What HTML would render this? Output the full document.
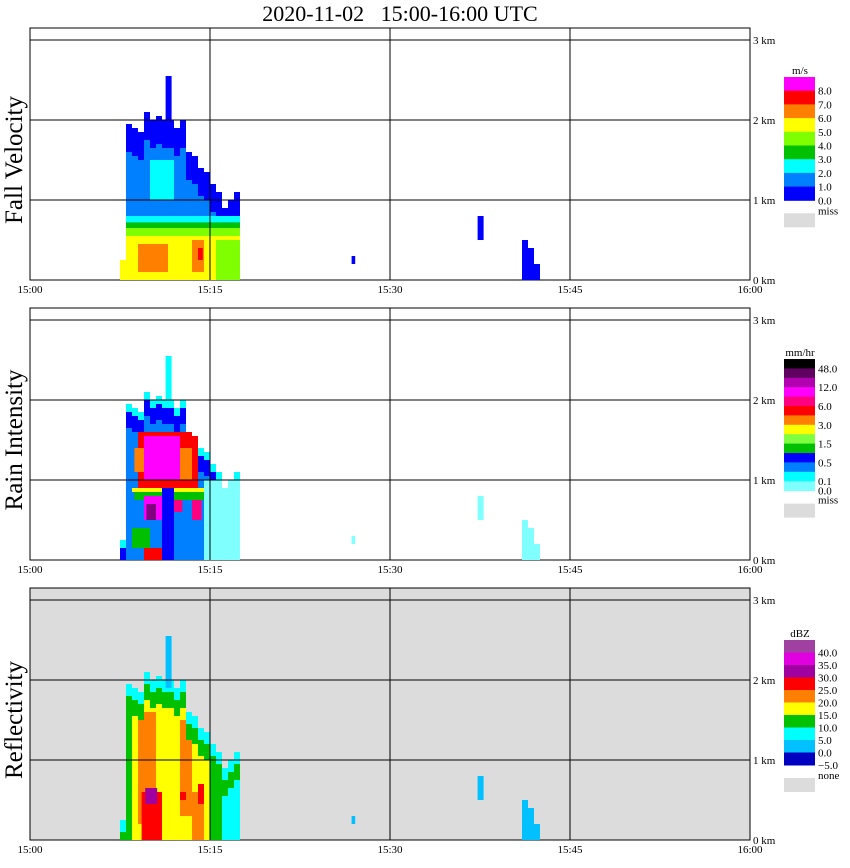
<!DOCTYPE html>
<html><head><meta charset="utf-8"><style>
body{margin:0;background:#fff;}
svg{display:block;font-family:"Liberation Serif",serif;}
</style></head><body>
<svg id="s" width="850" height="868" viewBox="0 0 850 868">
<text x="400" y="21" font-size="22" text-anchor="middle" xml:space="preserve" style="white-space:pre">2020-11-02   15:00-16:00 UTC</text>
</svg>
<script>
// ---- data ----
const colTimes = [7.5,8,8.5,9,9.5,10,10.5,11,11.5,12,12.5,13,13.5,14,14.5,15,15.5,16,16.5,17];
const colTops  = [0.25,1.95,1.9,1.85,2.1,2.0,2.05,2.0,2.0,1.9,2.0,1.6,1.55,1.4,1.35,1.2,1.1,0.9,1.0,1.1];
const towers = [[11.3,11.8,1.9,2.55]];
const smallEchoes = [[37.3,37.8,0.5,0.8],[41.0,41.5,0.0,0.5],[41.5,42.0,0.0,0.4],[42.0,42.5,0.0,0.2],[26.8,27.1,0.2,0.3]];
const fvCores = [[7.5,17.5,0,0.55,'#ffff00'],[8,17.5,0.55,0.65,'#80ff00'],[8,17.5,0.65,0.72,'#00c000'],[8,17.5,0.72,0.8,'#00ffff'],
 [9,11.5,0.1,0.45,'#ff8000'],[13.5,14.5,0.1,0.5,'#ff8000'],[14,14.4,0.25,0.4,'#ff0000'],[10,12,1.0,1.5,'#00ffff'],[15.5,17.5,0,0.5,'#80ff00']];
const riCores = [[9,14,0.9,1.6,'#ff0000'],[9.5,12.5,1.0,1.55,'#ff00ff'],[8.7,9.5,1.1,1.4,'#ff8000'],[12.5,13.5,1.0,1.4,'#ff8000'],
 [8.7,14.5,0.75,0.9,'#00c000'],[9.5,11,0.5,0.8,'#ff00ff'],[9.7,10.5,0.5,0.7,'#800080'],[11.7,12.7,0.6,0.75,'#ff0080'],[13.5,14.3,0.5,0.75,'#ff0080'],
 [8.5,14.5,0.85,0.9,'#ffff00'],[14.5,17.5,0,1.0,'#80ffff'],[11,12,0,0.9,'#0000ff'],[9.5,11,0,0.15,'#ff0000'],[8.5,10,0.15,0.4,'#00c000']];
const dbzCores = [[7.5,17.5,0,1.75,'#ffff00'],[9,10.5,0.2,1.6,'#ff8000'],[12.5,13.5,0.3,1.5,'#ff8000'],[9.3,11,0,0.6,'#ff0000'],[9.6,10.6,0.45,0.65,'#a000a0'],[13.5,14.5,0,0.6,'#ff8000'],
 [14,14.5,0.45,0.7,'#ff0000'],[12,13,0.5,0.6,'#ff0000'],[15,16,0,1.5,'#00c000'],[16,17.5,0,1.0,'#00ffff'],[11,12.5,0.2,1.2,'#ffff00'],[8,8.5,0,1.8,'#00c000']];
const xTicks = ['15:00','15:15','15:30','15:45','16:00'];
const yTicks = ['0 km','1 km','2 km','3 km'];
const fvLabels = ['8.0','7.0','6.0','5.0','4.0','3.0','2.0','1.0','0.0'];
const riLabels = ['48.0','12.0','6.0','3.0','1.5','0.5','0.1','0.0'];
const dbzLabels = ['40.0','35.0','30.0','25.0','20.0','15.0','10.0','5.0','0.0','−5.0'];
const fvColors = ['#ff00ff','#ff0000','#ff8000','#ffff00','#80ff00','#00c000','#00ffff','#0080ff','#0000ff'];
const riColors = ['#000000','#600060','#b000b0','#ff00ff','#ff0080','#ff0000','#ff8000','#ffff00','#80ff40','#00c000','#0000ff','#0080ff','#00ffff','#80ffff'];
const dbzColors = ['#a040a0','#e000e0','#a000a0','#ff0000','#ff8000','#ffff00','#00c000','#00ffff','#00c0ff','#0000c0'];

const NS='http://www.w3.org/2000/svg', svg=document.getElementById('s');
const xOf=t=>30+t*12;
function mk(tag,attrs,parent){const e=document.createElementNS(NS,tag);for(const k in attrs)e.setAttribute(k,attrs[k]);(parent||svg).appendChild(e);return e;}
function rect(g,t0,t1,h0,h1,base,c){if(h1<=h0||t1<=t0)return;const y0=base-h1*80,y1=base-h0*80;return mk('rect',{x:xOf(t0),y:y0,width:xOf(t1)-xOf(t0),height:y1-y0,fill:c},g);}
function clipped(g,c,base){
 colTimes.forEach((t,i)=>{const a=Math.max(t,c[0]),b=Math.min(t+0.5,c[1]);
  if(b>a)rect(g,a,b,c[2],Math.min(c[3],colTops[i]),base,c[4]);});
}

const panels=[
 {base:280,title:'Fall Velocity',bg:'#fff',kind:'fv',cores:fvCores,colors:fvColors,labels:fvLabels,unit:'m/s',cbTop:77,bh:13.7,miss:'miss',lblPos:[1,2,3,4,5,6,7,8,9]},
 {base:560,title:'Rain Intensity',bg:'#fff',kind:'ri',cores:riCores,colors:riColors,labels:riLabels,unit:'mm/hr',cbTop:359,bh:9.4,miss:'miss',lblPos:[1,3,5,7,9,11,13,14]},
 {base:840,title:'Reflectivity',bg:'#dcdcdc',kind:'dbz',cores:dbzCores,colors:dbzColors,labels:dbzLabels,unit:'dBZ',cbTop:640,bh:12.5,miss:'none',lblPos:[1,2,3,4,5,6,7,8,9,10]}];

panels.forEach((p,pi)=>{
 const g=mk('g',{});
 
 
 const top=p.base-252;
 const bg=mk('rect',{x:30,y:top,width:720,height:252,fill:p.bg,stroke:'#000','stroke-width':1},g);
 
 
 const dg=mk('g',{},g);
 
 
 const edge = p.kind==='fv'?'#0080ff':(p.kind==='ri'?'#0080ff':'#ffff00');
 colTimes.forEach((t,i)=>{
  const h=colTops[i];
  rect(dg,t,t+0.5,0,h,p.base,edge);
  if(p.kind==='fv'){rect(dg,t,t+0.5,Math.max(0,h-0.35),h,p.base,'#0000ff');}
  else if(p.kind==='ri'){rect(dg,t,t+0.5,Math.max(0,h-0.3),h,p.base,'#0000ff');rect(dg,t,t+0.5,Math.max(0,h-0.1),h,p.base,'#00ffff');}
 });
 p.cores.forEach(c=>clipped(dg,c,p.base));
 if(p.kind==='dbz'){colTimes.forEach((t,i)=>{const h=colTops[i];
  rect(dg,t,t+0.5,Math.max(0,h-0.35),h,p.base,'#00c000');rect(dg,t,t+0.5,Math.max(0,h-0.15),h,p.base,'#00ffff');});}
 const tc=p.kind==='fv'?'#0000ff':(p.kind==='ri'?'#00ffff':'#00c0ff');
 towers.forEach(tw=>rect(dg,tw[0],tw[1],tw[2],tw[3],p.base,tc));
 smallEchoes.forEach(e=>rect(dg,e[0],e[1],e[2],e[3],p.base,p.kind==='ri'?'#80ffff':tc));
 [15,30,45].forEach(m=>mk('line',{x1:xOf(m),x2:xOf(m),y1:top,y2:p.base,stroke:'#000','stroke-width':1},g));
 [1,2,3].forEach(k=>mk('line',{x1:30,x2:750,y1:p.base-k*80,y2:p.base-k*80,stroke:'#000','stroke-width':1},g));
 xTicks.forEach((s,i)=>{const tx=mk('text',{x:xOf(i*15),y:p.base+13,'font-size':11,'text-anchor':'middle'},g);tx.textContent=s;
  });
 yTicks.forEach((s,i)=>{const tx=mk('text',{x:753,y:p.base-i*80+4,'font-size':11},g);tx.textContent=s;
  });
 const cy=p.base-120;
 const yt=mk('text',{x:22,y:cy,'font-size':25,'text-anchor':'middle',transform:`rotate(-90 22 ${cy})`},g);yt.textContent=p.title;
 
 const lg=mk('g',{},g);
 
 
 const u=mk('text',{x:800,y:p.cbTop-3,'font-size':11,'text-anchor':'middle'},lg);u.textContent=p.unit;
 p.colors.forEach((c,i)=>mk('rect',{x:784,y:p.cbTop+i*p.bh,width:31,height:p.bh+0.5,fill:c},lg));
 p.labels.forEach((s,i)=>{const tx=mk('text',{x:818,y:p.cbTop+p.lblPos[i]*p.bh+4,'font-size':11},lg);tx.textContent=s;});
 const end=p.cbTop+p.colors.length*p.bh;
 mk('rect',{x:784,y:end+13,width:31,height:14,fill:'#dcdcdc'},lg);
 const ms=mk('text',{x:818,y:end+(p.kind==='ri'?13:14),'font-size':11},lg);ms.textContent=p.miss;
});
</script>
</body></html>
